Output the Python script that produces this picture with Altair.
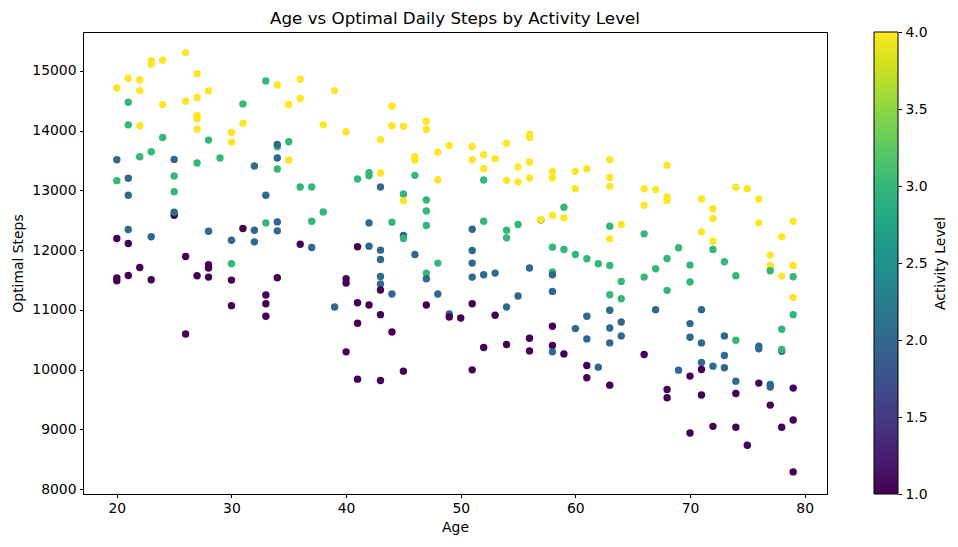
import altair as alt
import pandas as pd

ages = [
    20, 20, 20, 20, 20, 20,
    21, 21, 21, 21, 21, 21, 21, 21,
    22, 22, 22, 22, 22,
    23, 23, 23, 23, 23,
    24, 24, 24,
    25, 25, 25, 25, 25,
    26, 26, 26, 26,
    27, 27, 27, 27, 27, 27, 27,
    28, 28, 28, 28, 28, 28,
    29,
    30, 30, 30, 30, 30, 30,
    31, 31, 31,
    32, 32, 32,
    33, 33, 33, 33, 33, 33,
    34, 34, 34, 34, 34, 34, 34, 34,
    35, 35, 35,
    36, 36, 36, 36,
    37, 37, 37,
    38, 38,
    39, 39,
    40, 40, 40, 40,
    41, 41, 41, 41, 41,
    42, 42, 42, 42, 42,
    43, 43, 43, 43, 43, 43, 43, 43, 43, 43,
    44, 44, 44, 44, 44,
    45, 45, 45, 45, 45, 45,
    46, 46, 46, 46,
    47, 47, 47, 47, 47, 47, 47, 47,
    48, 48, 48, 48,
    49, 49, 49,
    50,
    51, 51, 51, 51, 51, 51, 51, 51,
    52, 52, 52, 52, 52, 52,
    53, 53, 53,
    54, 54, 54, 54, 54, 54,
    55, 55, 55, 55,
    56, 56, 56, 56, 56, 56, 56,
    57, 57,
    58, 58, 58, 58, 58, 58, 58, 58, 58, 58,
    59, 59, 59, 59,
    60, 60, 60, 60,
    61, 61, 61, 61, 61, 61,
    62, 62,
    63, 63, 63, 63, 63, 63, 63, 63, 63, 63, 63,
    64, 64, 64, 64, 64,
    66, 66, 66, 66, 66,
    67, 67, 67,
    68, 68, 68, 68, 68, 68, 68,
    69, 69,
    70, 70, 70, 70, 70, 70,
    71, 71, 71, 71, 71, 71, 71,
    72, 72, 72, 72, 72, 72,
    73, 73, 73, 73,
    74, 74, 74, 74, 74, 74,
    75, 75,
    76, 76, 76, 76, 76,
    77, 77, 77, 77, 77, 77,
    78, 78, 78, 78, 78, 78,
    79, 79, 79, 79, 79, 79, 79, 79,
]

steps = [
    14715, 13513, 13163, 12195, 11533, 11488,
    14876, 14476, 14097, 13202, 12918, 12345, 12111, 11577,
    14848, 14670, 14081, 13563, 11711,
    15172, 15115, 13647, 12223, 11505,
    15177, 14437, 13886,
    13519, 13241, 12979, 12584, 12634,
    15306, 14492, 11894, 10598,
    14954, 14554, 14253, 14198, 14025, 13458, 11572,
    14665, 13842, 12317, 11755, 11700, 11549,
    13541,
    13970, 13808, 12167, 11772, 11499, 11071,
    14448, 14125, 12362,
    13408, 12334, 12139,
    14832, 12918, 12456, 11249, 11104, 10893,
    14765, 13730, 13769, 13541, 13357, 12473, 12323, 11538,
    14437, 13814, 13508,
    14860, 14537, 13057, 12100,
    13057, 12484, 12045,
    14097, 12640,
    14670, 11049,
    13981, 11522, 11449, 10298,
    13191, 12056, 11121, 10776, 9841,
    13296, 13246, 12456, 12067, 11082,
    13847, 13291, 13057, 12000, 11844, 11561, 11433, 11332, 10921, 9819,
    14409, 14081, 12467, 11266, 10632,
    14070, 12940, 12823, 12245, 12195, 9975,
    13563, 13508, 13252, 11928,
    14159, 14020, 12840, 12657, 12412, 11616, 11522, 11082,
    13641, 13179, 11783, 11266,
    13753, 10932, 10882,
    10865,
    13736, 13513, 12351, 11995, 11783, 11549, 11104, 9997,
    13597, 13363, 13174, 12484, 11588, 10370,
    13530, 11616, 10910,
    13791, 13168, 12334, 12206, 11049, 10420,
    13391, 13141, 12429, 11232,
    13942, 13886, 13474, 13207, 11700, 10526, 10314,
    12505, 12512,
    13319, 13207, 12579, 12050, 11633, 11588, 11310, 10726, 10403, 10298,
    12718, 12540, 12011, 10264,
    13319, 13029, 11928, 10687,
    13363, 11855, 10893, 10515, 10070, 9864,
    11772, 10042,
    13513, 13218, 13068, 12401, 12189, 11744, 11255, 10993, 10698, 10448, 9741,
    12429, 11477, 11188, 10798, 10565,
    13029, 12751, 12273, 11549, 10253,
    13013, 11688, 11004,
    13419, 12890, 12829, 11861, 11327, 9669, 9530,
    12039, 9992,
    11750, 11466, 10771, 10543, 9892, 8940,
    12857, 12306, 11004, 10448, 10120, 10003, 9575,
    12695, 12529, 12150, 12011, 10059, 9051,
    11805, 10565, 10236, 10031,
    13052, 11572, 10492, 9808, 9602, 9035,
    13029, 8734,
    12857, 12456, 10392, 10348, 9775,
    11917, 11744, 11655, 9752, 9708, 9407,
    12223, 11566, 10309, 10676, 10337, 9035,
    12484, 11744, 11555, 11210, 10921, 9691, 9157, 8289,
]

levels = [
    4, 2, 3, 1, 1, 1,
    4, 3, 3, 2, 2, 2, 1, 1,
    4, 4, 4, 3, 1,
    4, 4, 3, 2, 1,
    4, 4, 3,
    2, 3, 3, 1, 2,
    4, 4, 1, 1,
    4, 4, 4, 4, 4, 3, 1,
    4, 3, 2, 1, 1, 1,
    3,
    4, 4, 2, 3, 1, 1,
    3, 4, 1,
    2, 2, 2,
    3, 2, 3, 1, 1, 1,
    4, 3, 2, 2, 3, 2, 2, 1,
    4, 3, 4,
    4, 4, 3, 1,
    3, 3, 2,
    4, 3,
    4, 2,
    4, 1, 1, 1,
    3, 1, 1, 1, 1,
    3, 3, 2, 2, 1,
    4, 4, 2, 2, 2, 2, 2, 1, 1, 1,
    4, 4, 3, 2, 1,
    4, 3, 4, 2, 3, 1,
    4, 4, 3, 2,
    4, 4, 3, 3, 3, 3, 2, 1,
    4, 4, 3, 2,
    4, 2, 1,
    1,
    4, 4, 2, 2, 2, 2, 1, 1,
    4, 4, 3, 3, 2, 1,
    4, 2, 1,
    4, 4, 3, 3, 2, 1,
    4, 4, 3, 2,
    4, 4, 4, 4, 2, 1, 1,
    3, 4,
    4, 4, 4, 3, 3, 2, 2, 1, 1, 2,
    3, 4, 3, 1,
    4, 4, 3, 2,
    4, 3, 2, 2, 1, 1,
    3, 2,
    4, 4, 4, 3, 4, 3, 3, 2, 2, 2, 1,
    4, 3, 3, 2, 2,
    4, 4, 3, 3, 1,
    4, 3, 2,
    4, 4, 4, 3, 3, 1, 1,
    3, 2,
    3, 3, 2, 2, 1, 1,
    4, 4, 2, 2, 2, 1, 1,
    4, 4, 4, 3, 2, 1,
    3, 2, 2, 2,
    4, 3, 3, 2, 1, 1,
    4, 1,
    4, 4, 2, 2, 1,
    4, 4, 3, 2, 2, 1,
    4, 4, 2, 3, 3, 1,
    4, 4, 3, 4, 3, 1, 1, 1,
]

x_ticks = [20, 30, 40, 50, 60, 70, 80]
y_ticks = [8000, 9000, 10000, 11000, 12000, 13000, 14000, 15000]
cbar_ticks = [1.0, 1.5, 2.0, 2.5, 3.0, 3.5, 4.0]

df = pd.DataFrame({"Age": ages, "Optimal Steps": steps, "Activity Level": levels})
cbar_df = pd.DataFrame({"level": cbar_ticks})

FONT = "DejaVu Sans"

points = (
    alt.Chart(df)
    .mark_circle(size=55, opacity=1)
    .encode(
        x=alt.X(
            "Age:Q",
            scale=alt.Scale(domain=[17.05, 81.95], nice=False, zero=False),
            axis=alt.Axis(values=x_ticks, title="Age", format="d"),
        ),
        y=alt.Y(
            "Optimal Steps:Q",
            scale=alt.Scale(domain=[7919, 15651], nice=False, zero=False),
            axis=alt.Axis(values=y_ticks, title="Optimal Steps", format="d"),
        ),
        color=alt.Color(
            "Activity Level:Q",
            scale=alt.Scale(scheme="viridis", domain=[1, 4]),
            legend=alt.Legend(
                orient="none",
                legendX=791,
                legendY=0,
                direction="vertical",
                gradientLength=462,
                gradientThickness=24,
                gradientStrokeColor="black",
                gradientStrokeWidth=1,
                labelOpacity=0,
                labelFontSize=1,
                title=None,
                padding=0,
            ),
        ),
    )
)

# colorbar tick axis (matplotlib-style ticks + labels + rotated title)
cbar_axis = (
    alt.Chart(cbar_df)
    .mark_point(opacity=0)
    .encode(
        x=alt.value(0),
        y=alt.Y(
            "level:Q",
            scale=alt.Scale(domain=[1, 4], nice=False, zero=False),
            axis=alt.Axis(
                orient="right",
                offset=71,
                values=cbar_ticks,
                format=".1f",
                domain=False,
                grid=False,
                title="Activity Level",
                titleAngle=270,
                titlePadding=20,
            ),
        ),
    )
)

chart = (
    alt.layer(points, cbar_axis)
    .resolve_scale(y="independent")
    .properties(
        width=744,
        height=462,
        autosize="none",
        padding={"left": 75, "top": 24, "right": 123, "bottom": 45},
        title=alt.TitleParams(
            "Age vs Optimal Daily Steps by Activity Level",
            font=FONT,
            fontSize=16.7,
            fontWeight="normal",
            color="black",
            anchor="middle",
            baseline="bottom",
            offset=4,
            dy=24,
        ),
    )
    .configure_view(stroke="black", strokeWidth=1)
    .configure_axis(
        grid=False,
        domainColor="black",
        domainWidth=1,
        tickColor="black",
        tickSize=3.5,
        tickWidth=1,
        labelFont=FONT,
        labelFontSize=13.9,
        labelColor="black",
        labelPadding=3.5,
        titleFont=FONT,
        titleFontSize=13.9,
        titleFontWeight="normal",
        titleColor="black",
        titlePadding=6,
    )
)

chart.save("out.html", embed_options={"renderer": "svg", "actions": False})
